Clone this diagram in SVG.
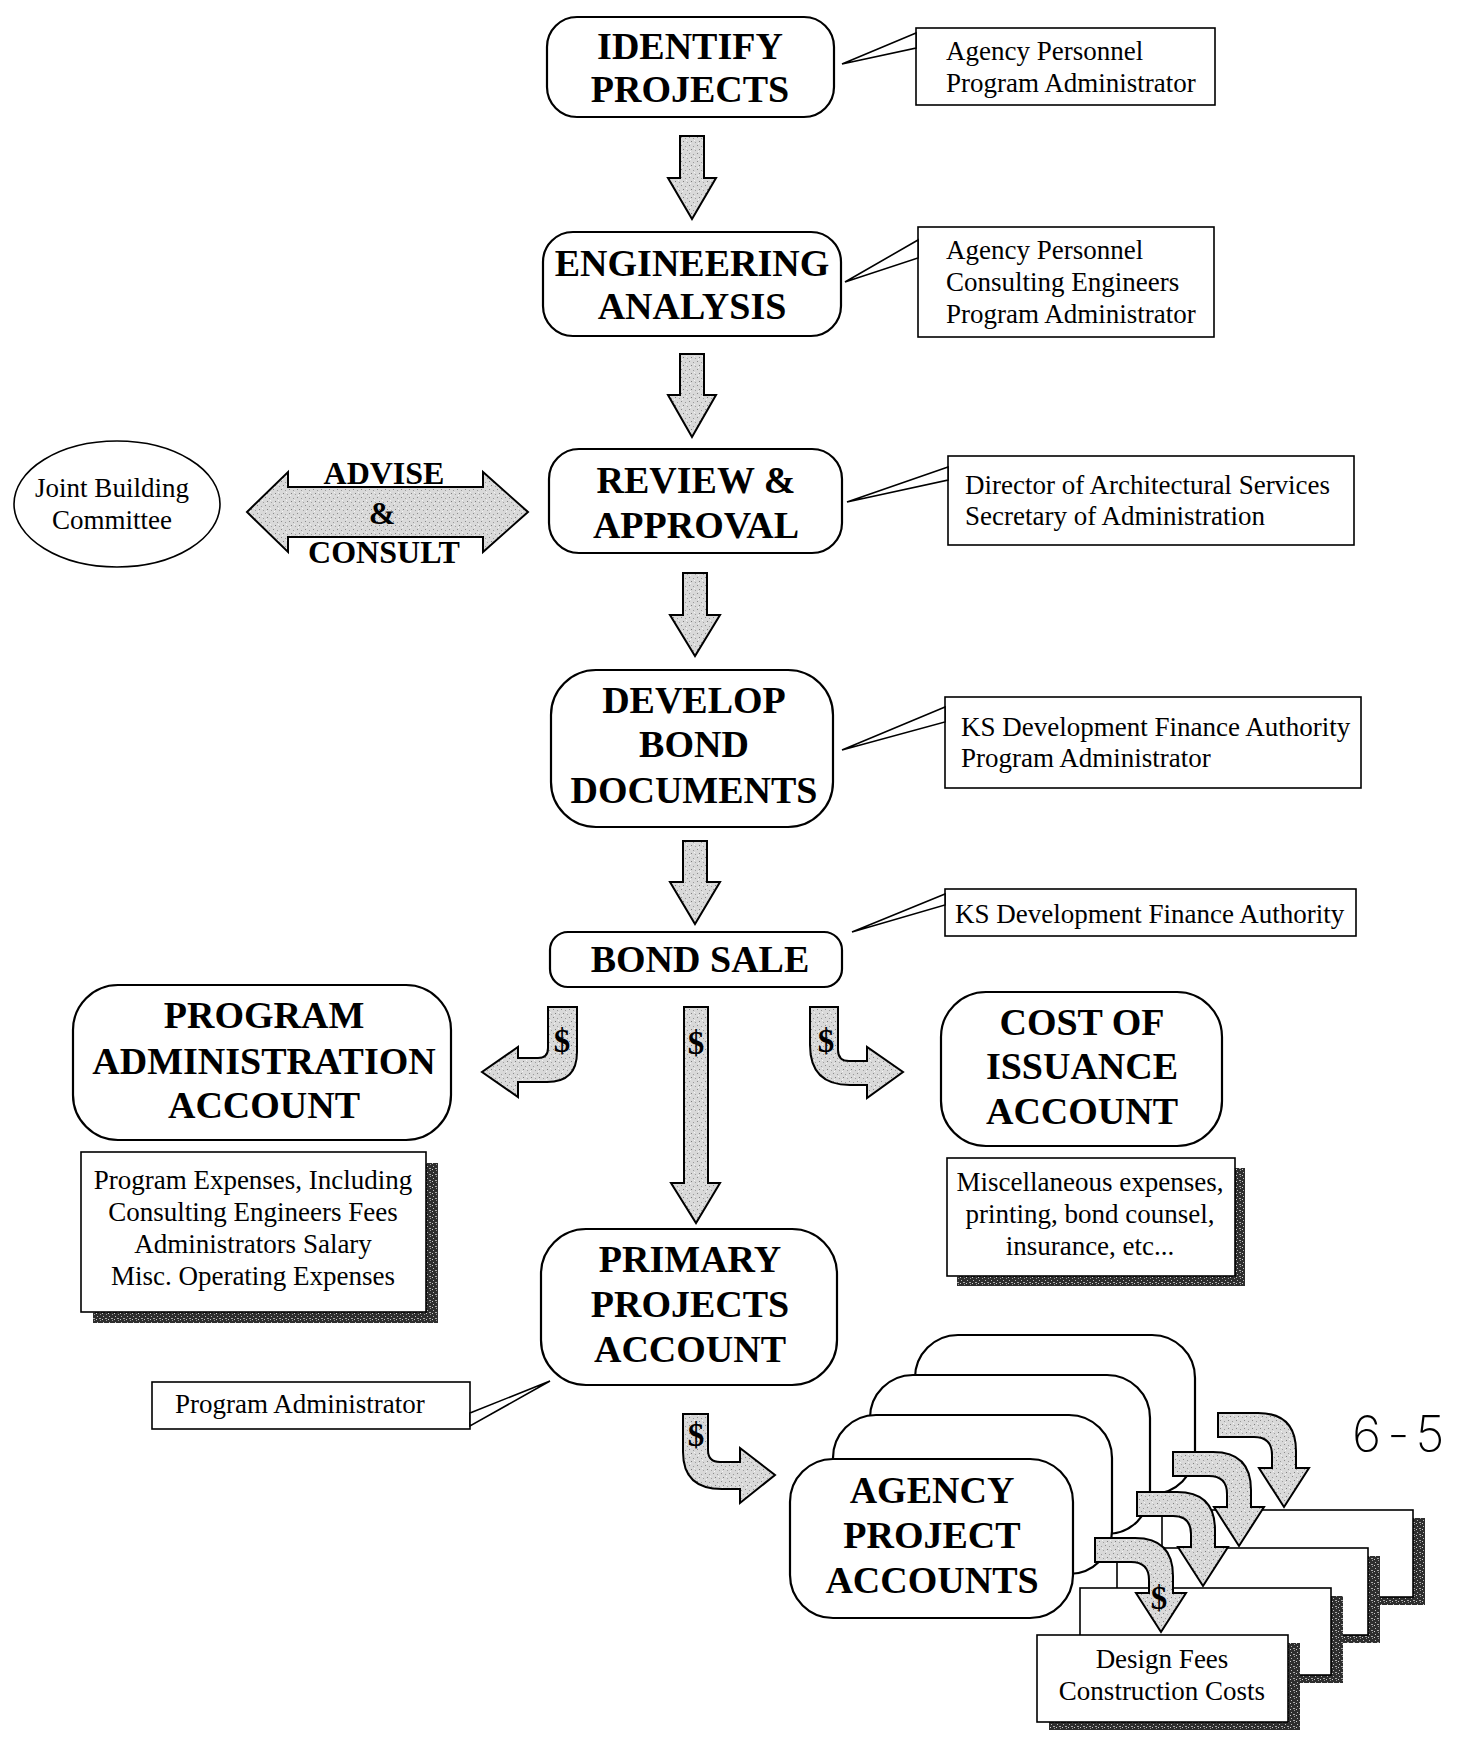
<svg xmlns="http://www.w3.org/2000/svg" width="1462" height="1743" viewBox="0 0 1462 1743">
<defs>
<pattern id="stip" width="8" height="8" patternUnits="userSpaceOnUse">
<rect width="8" height="8" fill="#d9d9d9"/>
<rect x="1" y="1" width="1" height="1" fill="#8a8a8a"/>
<rect x="5" y="2" width="1" height="1" fill="#9a9a9a"/>
<rect x="3" y="5" width="1" height="1" fill="#808080"/>
<rect x="7" y="6" width="1" height="1" fill="#a0a0a0"/>
<rect x="6" y="4" width="1" height="1" fill="#f4f4f4"/>
<rect x="2" y="7" width="1" height="1" fill="#f4f4f4"/>
</pattern>
<pattern id="dark" width="6" height="6" patternUnits="userSpaceOnUse">
<rect width="6" height="6" fill="#2e2e2e"/>
<rect x="1" y="2" width="1" height="1" fill="#bbb"/>
<rect x="4" y="0" width="1" height="1" fill="#999"/>
<rect x="3" y="4" width="2" height="1" fill="#aaa"/>
<rect x="0" y="5" width="1" height="1" fill="#ccc"/>
</pattern>
<style>
.node{fill:#fff;stroke:#000;stroke-width:2.2}
.call{fill:#fff;stroke:#000;stroke-width:1.6}
.blk{fill:url(#stip);stroke:#000;stroke-width:2;stroke-linejoin:miter}
.shadow{fill:url(#dark)}
.big{font-family:"Liberation Serif","Times New Roman",serif;font-weight:bold;font-size:38px;text-anchor:middle;fill:#000}
.mid{font-family:"Liberation Serif","Times New Roman",serif;font-weight:bold;font-size:32px;text-anchor:middle;fill:#000}
.dol{font-family:"Liberation Serif","Times New Roman",serif;font-weight:bold;font-size:33px;text-anchor:middle;fill:#000}
.ct{font-family:"Liberation Serif","Times New Roman",serif;font-size:27px;fill:#000}
.cc{font-family:"Liberation Serif","Times New Roman",serif;font-size:27px;text-anchor:middle;fill:#000}
.hand{font-family:"Inter","Open Sans","DejaVu Sans",sans-serif;font-weight:200;font-size:50px;fill:#000}
</style>
</defs>
<rect width="1462" height="1743" fill="#fff"/>

<g id="node-identify">
<rect class="node" x="547" y="17" width="287" height="100" rx="30"/>
<text class="big" x="690" y="59">IDENTIFY</text>
<text class="big" x="690" y="102">PROJECTS</text>
</g>
<g id="note-identify">
<rect class="call" x="916" y="28" width="299" height="77"/>
<text class="ct" x="946" y="60">Agency Personnel</text>
<text class="ct" x="946" y="92">Program Administrator</text>
</g>

<g id="node-engineering">
<rect class="node" x="543" y="232" width="298" height="104" rx="30"/>
<text class="big" x="692" y="276">ENGINEERING</text>
<text class="big" x="692" y="319">ANALYSIS</text>
</g>
<g id="note-engineering">
<rect class="call" x="918" y="227" width="296" height="110"/>
<text class="ct" x="946" y="259">Agency Personnel</text>
<text class="ct" x="946" y="291">Consulting Engineers</text>
<text class="ct" x="946" y="323">Program Administrator</text>
</g>

<g id="node-review">
<rect class="node" x="549" y="449" width="293" height="104" rx="30"/>
<text class="big" x="696" y="493">REVIEW &amp;</text>
<text class="big" x="696" y="538">APPROVAL</text>
</g>
<g id="note-review">
<rect class="call" x="948" y="456" width="406" height="89"/>
<text class="ct" x="965" y="494">Director of Architectural Services</text>
<text class="ct" x="965" y="525">Secretary of Administration</text>
</g>

<g id="node-jbc">
<ellipse class="call" cx="117" cy="504" rx="103" ry="63"/>
<text class="cc" x="112" y="497">Joint Building</text>
<text class="cc" x="112" y="529">Committee</text>
</g>

<g id="node-develop">
<rect class="node" x="551" y="670" width="282" height="157" rx="45"/>
<text class="big" x="694" y="713">DEVELOP</text>
<text class="big" x="694" y="757">BOND</text>
<text class="big" x="694" y="803">DOCUMENTS</text>
</g>
<g id="note-develop">
<rect class="call" x="945" y="697" width="416" height="91"/>
<text class="ct" x="961" y="736">KS Development Finance Authority</text>
<text class="ct" x="961" y="767">Program Administrator</text>
</g>

<g id="node-bondsale">
<rect class="node" x="550" y="932" width="292" height="55" rx="18"/>
<text class="big" x="700" y="972">BOND SALE</text>
</g>
<g id="note-bondsale">
<rect class="call" x="945" y="889" width="411" height="47"/>
<text class="ct" x="955" y="923">KS Development Finance Authority</text>
</g>

<g id="node-progadmin">
<rect class="node" x="73" y="985" width="378" height="155" rx="45"/>
<text class="big" x="264" y="1028">PROGRAM</text>
<text class="big" x="264" y="1074">ADMINISTRATION</text>
<text class="big" x="264" y="1118">ACCOUNT</text>
</g>
<g id="note-progadmin">
<rect class="shadow" x="93" y="1163" width="345" height="160"/>
<rect class="call" x="81" y="1152" width="345" height="160"/>
<text class="cc" x="253" y="1189">Program Expenses, Including</text>
<text class="cc" x="253" y="1221">Consulting Engineers Fees</text>
<text class="cc" x="253" y="1253">Administrators Salary</text>
<text class="cc" x="253" y="1285">Misc. Operating Expenses</text>
</g>

<g id="node-cost">
<rect class="node" x="941" y="992" width="281" height="154" rx="45"/>
<text class="big" x="1082" y="1035">COST OF</text>
<text class="big" x="1082" y="1079">ISSUANCE</text>
<text class="big" x="1082" y="1124">ACCOUNT</text>
</g>
<g id="note-cost">
<rect class="shadow" x="957" y="1168" width="288" height="118"/>
<rect class="call" x="947" y="1158" width="288" height="118"/>
<text class="cc" x="1090" y="1191">Miscellaneous expenses,</text>
<text class="cc" x="1090" y="1223">printing, bond counsel,</text>
<text class="cc" x="1090" y="1255">insurance, etc...</text>
</g>

<g id="node-primary">
<rect class="node" x="541" y="1229" width="296" height="156" rx="45"/>
<text class="big" x="690" y="1272">PRIMARY</text>
<text class="big" x="690" y="1317">PROJECTS</text>
<text class="big" x="690" y="1362">ACCOUNT</text>
</g>
<g id="note-primary">
<rect class="call" x="152" y="1382" width="318" height="47"/>
<text class="ct" x="175" y="1413">Program Administrator</text>
</g>

<g id="node-agency">
<rect class="node" x="915" y="1335" width="280" height="159" rx="43"/>
<rect class="node" x="870" y="1375" width="280" height="159" rx="43"/>
<rect class="node" x="833" y="1415" width="279" height="159" rx="43"/>
<rect class="node" x="790" y="1459" width="283" height="159" rx="43"/>
<text class="big" x="932" y="1503">AGENCY</text>
<text class="big" x="932" y="1548">PROJECT</text>
<text class="big" x="932" y="1593">ACCOUNTS</text>
</g>

<g id="node-design">
<rect class="shadow" x="1174" y="1518" width="251" height="87"/>
<rect class="call" x="1162" y="1510" width="251" height="87"/>
<rect class="shadow" x="1129" y="1556" width="251" height="87"/>
<rect class="call" x="1117" y="1548" width="251" height="87"/>
<rect class="shadow" x="1092" y="1596" width="251" height="87"/>
<rect class="call" x="1080" y="1588" width="251" height="87"/>
<rect class="shadow" x="1049" y="1643" width="251" height="87"/>
<rect class="call" x="1037" y="1635" width="251" height="87"/>
<text class="cc" x="1162" y="1668">Design Fees</text>
<text class="cc" x="1162" y="1700">Construction Costs</text>
</g>

<g id="page-number">
<text class="hand" x="1352" y="1452" letter-spacing="6">6-5</text>
</g>

<g id="connectors">
<path class="blk" d="M680 136L704 136L704 178L716 178L692 219L668 178L680 178Z"/>
<path class="blk" d="M680 354L704 354L704 395L716 395L692 437L668 395L680 395Z"/>
<path class="blk" d="M683 573L707 573L707 615L720 615L695 656L670 615L683 615Z"/>
<path class="blk" d="M683 841L707 841L707 882L720 882L695 924L670 882L683 882Z"/>

<g id="advise-consult">
<path class="blk" d="M247 512L288 472L288 487L483 487L483 472L528 512L483 552L483 537L288 537L288 552Z"/>
<text class="mid" x="384" y="484">ADVISE</text>
<text class="mid" x="382" y="524">&amp;</text>
<text class="mid" x="384" y="563">CONSULT</text>
</g>

<path class="blk" d="M548 1007L577 1007L577 1052Q577 1082 547 1082L518 1082L518 1097L482 1072L518 1047L518 1058L538 1058Q548 1058 548 1048Z"/>
<text class="dol" x="562" y="1052">$</text>
<path class="blk" d="M684 1007L708 1007L708 1183L720 1183L696 1223L671 1183L684 1183Z"/>
<text class="dol" x="696" y="1054">$</text>
<path class="blk" d="M810 1007L838 1007L838 1050Q838 1061 849 1061L867 1061L867 1047L903 1072L867 1098L867 1085L850 1085Q810 1085 810 1045Z"/>
<text class="dol" x="826" y="1052">$</text>

<path class="blk" d="M683 1414L708 1414L708 1450Q708 1462 720 1462L740 1462L740 1448L775 1475L740 1503L740 1489L722 1489Q683 1489 683 1452Z"/>
<text class="dol" x="696" y="1446">$</text>

<path class="blk" transform="translate(123,-125)" d="M1095 1538L1135 1538Q1173 1538 1173 1576L1173 1593L1186 1593L1161 1632L1136 1593L1149 1593L1149 1580Q1149 1562 1131 1562L1095 1562Z"/>
<path class="blk" transform="translate(78,-86)" d="M1095 1538L1135 1538Q1173 1538 1173 1576L1173 1593L1186 1593L1161 1632L1136 1593L1149 1593L1149 1580Q1149 1562 1131 1562L1095 1562Z"/>
<path class="blk" transform="translate(42,-46)" d="M1095 1538L1135 1538Q1173 1538 1173 1576L1173 1593L1186 1593L1161 1632L1136 1593L1149 1593L1149 1580Q1149 1562 1131 1562L1095 1562Z"/>
<path class="blk" d="M1095 1538L1135 1538Q1173 1538 1173 1576L1173 1593L1186 1593L1161 1632L1136 1593L1149 1593L1149 1580Q1149 1562 1131 1562L1095 1562Z"/>
<text class="dol" x="1159" y="1609">$</text>

<polygon class="call" points="916,33 842,64 916,48"/>
<polygon class="call" points="918,240 845,282 918,258"/>
<polygon class="call" points="948,467 847,502 948,480"/>
<polygon class="call" points="945,707 842,750 945,722"/>
<polygon class="call" points="945,894 852,932 945,905"/>
<polygon class="call" points="470,1413 550,1381 470,1426"/>
</g>
</svg>
